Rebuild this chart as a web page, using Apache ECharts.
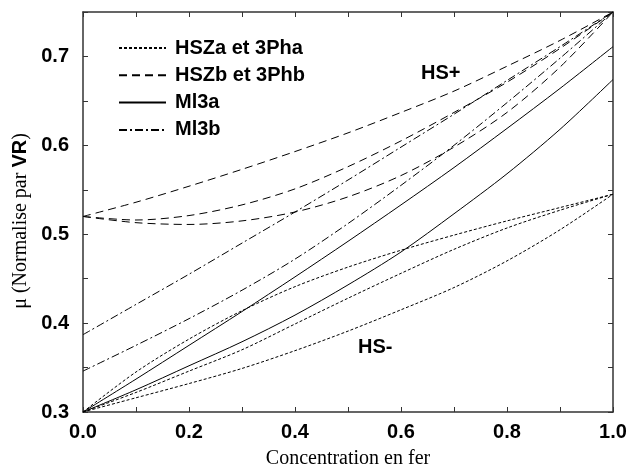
<!DOCTYPE html>
<html>
<head>
<meta charset="utf-8">
<script src="https://cdn.jsdelivr.net/npm/echarts@6/dist/echarts.min.js"></script>
<style>
  html, body { margin: 0; padding: 0; background: #fff; }
  #chart { width: 630px; height: 474px; }
</style>
</head>
<body>
<div id="chart"></div>
<script>
const conc = [0, 0.1, 0.2, 0.3, 0.4, 0.5, 0.6, 0.7, 0.8, 0.9, 1.0];

// HS- family (dotted)
const hszaUp = [0.3, 0.345, 0.382, 0.414, 0.441, 0.463, 0.482, 0.499, 0.515, 0.530, 0.545];
const hszaMid = [0.3, 0.322, 0.346, 0.370, 0.399, 0.428, 0.456, 0.483, 0.507, 0.527, 0.545];
const hszaLow = [0.3, 0.316, 0.332, 0.349, 0.369, 0.391, 0.415, 0.440, 0.470, 0.505, 0.545];

// HS+ family (dashed)
const hszbUp = [0.52, 0.536, 0.554, 0.573, 0.593, 0.614, 0.637, 0.661, 0.689, 0.718, 0.75];
const hszbMid = [0.52, 0.516, 0.521, 0.533, 0.551, 0.576, 0.605, 0.637, 0.671, 0.709, 0.75];
const hszbLow = [0.52, 0.513, 0.511, 0.515, 0.525, 0.542, 0.566, 0.598, 0.637, 0.688, 0.75];

// Ml3a (solid)
const ml3aUp = [0.3, 0.337, 0.375, 0.413, 0.452, 0.492, 0.533, 0.575, 0.619, 0.664, 0.711];
const ml3aLow = [0.3, 0.325, 0.352, 0.379, 0.409, 0.443, 0.480, 0.523, 0.568, 0.618, 0.674];

// Ml3b (dash-dot)
const ml3bUp = [0.387, 0.421, 0.455, 0.490, 0.525, 0.561, 0.598, 0.635, 0.673, 0.711, 0.75];
const ml3bLow = [0.346, 0.375, 0.405, 0.437, 0.472, 0.512, 0.555, 0.600, 0.648, 0.698, 0.75];

const myChart = echarts.init(document.getElementById('chart'));

const styles = {
  'HSZa et 3Pha': [3, 2],
  'HSZb et 3Phb': [8, 5],
  'Ml3a': 'solid',
  'Ml3b': [8, 3, 2, 3],
};

function makeSeries(name, values) {
  return {
    name: name,
    type: 'line',
    smooth: 0.3,
    symbol: 'none',
    silent: true,
    data: conc.map((c, i) => [c, values[i]]),
    lineStyle: { color: '#000', width: 1, type: styles[name] },
    itemStyle: { color: '#000' },
  };
}

const axisLineStyle = { color: '#333', width: 1.5 };
const tickFont = {
  fontFamily: 'Liberation Sans, Arial, sans-serif',
  fontWeight: 'bold',
  fontSize: 20,
  color: '#000',
};

function xAxisCfg(pos, labels) {
  return {
    type: 'value',
    position: pos,
    min: 0,
    max: 1,
    interval: 0.1,
    axisLine: { show: true, onZero: false, lineStyle: axisLineStyle },
    axisTick: { show: true, inside: true, length: 5, lineStyle: { color: '#333' } },
    splitLine: { show: false },
    axisLabel: {
      show: labels,
      margin: 10,
      ...tickFont,
      formatter: (v) => (Math.round(v * 10) % 2 === 0 ? v.toFixed(1) : ''),
    },
  };
}

function yAxisCfg(pos, labels) {
  return {
    type: 'value',
    position: pos,
    min: 0.3,
    max: 0.75,
    interval: 0.05,
    axisLine: { show: true, onZero: false, lineStyle: axisLineStyle },
    axisTick: { show: true, inside: true, length: 5, lineStyle: { color: '#333' } },
    splitLine: { show: false },
    axisLabel: {
      show: labels,
      margin: 14,
      ...tickFont,
      formatter: (v) => (Math.round(v * 100) % 10 === 0 ? v.toFixed(1) : ''),
    },
  };
}

const xMain = xAxisCfg('bottom', true);
xMain.name = 'Concentration en fer';
xMain.nameLocation = 'middle';
xMain.nameGap = 37;
xMain.nameTextStyle = { fontFamily: 'Liberation Serif, Times New Roman, serif', fontSize: 20, color: '#000' };

const yMain = yAxisCfg('left', true);
yMain.name = '{a|μ (Normalise par }{b|VR}{a|)}';
yMain.nameLocation = 'middle';
yMain.nameRotate = 90;
yMain.nameGap = 51;
yMain.nameTextStyle = {
  padding: [0, 18, 0, 0],
  rich: {
    a: { fontFamily: 'Liberation Serif, Times New Roman, serif', fontSize: 20, color: '#000' },
    b: { fontFamily: 'Liberation Sans, Arial, sans-serif', fontWeight: 'bold', fontSize: 20, color: '#000' },
  },
};

const option = {
  animation: false,
  backgroundColor: '#fff',
  grid: { left: 83, right: 17, top: 12, bottom: 60 },
  legend: {
    orient: 'vertical',
    left: 113,
    top: 33,
    itemWidth: 47,
    itemHeight: 14,
    itemGap: 7.3,
    data: ['HSZa et 3Pha', 'HSZb et 3Phb', 'Ml3a', 'Ml3b'],
    itemStyle: { opacity: 0 },
    textStyle: {
      fontFamily: 'Liberation Sans, Arial, sans-serif',
      fontWeight: 'bold',
      fontSize: 20,
      lineHeight: 20,
      color: '#000',
      padding: [0, 0, 0, 4],
    },
    selectedMode: false,
  },
  graphic: [
    {
      type: 'text',
      left: 421,
      top: 63,
      style: { text: 'HS+', font: 'bold 20px Liberation Sans, Arial, sans-serif', fill: '#000' },
    },
    {
      type: 'text',
      left: 358,
      top: 337,
      style: { text: 'HS-', font: 'bold 20px Liberation Sans, Arial, sans-serif', fill: '#000' },
    },
  ],
  xAxis: [xMain, xAxisCfg('top', false)],
  yAxis: [yMain, yAxisCfg('right', false)],
  series: [
    makeSeries('HSZa et 3Pha', hszaUp),
    makeSeries('HSZa et 3Pha', hszaMid),
    makeSeries('HSZa et 3Pha', hszaLow),
    makeSeries('HSZb et 3Phb', hszbUp),
    makeSeries('HSZb et 3Phb', hszbMid),
    makeSeries('HSZb et 3Phb', hszbLow),
    makeSeries('Ml3a', ml3aUp),
    makeSeries('Ml3a', ml3aLow),
    makeSeries('Ml3b', ml3bUp),
    makeSeries('Ml3b', ml3bLow),
  ],
};

myChart.setOption(option);
</script>
</body>
</html>
